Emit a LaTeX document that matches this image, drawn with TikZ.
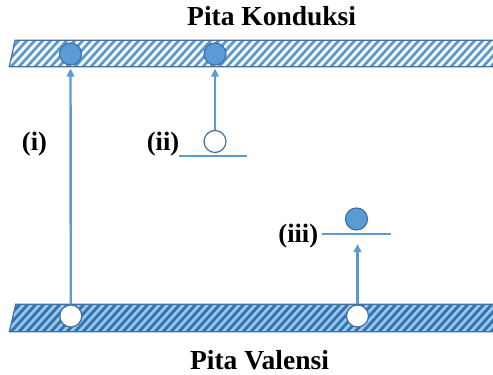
\documentclass[tikz,border=0pt]{standalone}
\usepackage{fontspec}
\setmainfont{Liberation Serif}
\usetikzlibrary{arrows.meta}
\definecolor{acc}{HTML}{5B9BD5}
\definecolor{edgeb}{HTML}{41719C}
\definecolor{lightb}{HTML}{9DC3E6}
\definecolor{darkh}{HTML}{2E75B6}
\begin{document}
\begin{tikzpicture}[x=1pt,y=-1pt,
 electron/.style={circle,draw=edgeb,fill=acc,line width=1.2pt,minimum size=22pt,inner sep=0},
 hole/.style={circle,draw=edgeb,fill=white,line width=1.2pt,minimum size=22pt,inner sep=0},
 jump/.style={draw=acc,line width=2.4pt,-{Triangle[length=8pt,width=7.5pt]}},
 levelline/.style={draw=acc,line width=2.4pt},
 lbl/.style={font=\bfseries\fontsize{26.5}{28}\selectfont,inner sep=0},
 ttl/.style={font=\bfseries\fontsize{27.5}{30}\selectfont,inner sep=0}]
\useasboundingbox (0,0) rectangle (493,375);
% conduction band
\begin{scope}
\clip (15,40.3) -- (500,40.3) -- (500,66.7) -- (9.3,66.7) -- cycle;
\foreach \x in {-40,-32,...,520} \draw[acc,line width=2.8pt] (\x,70) -- ++(30,-33);
\end{scope}
\draw[edgeb,line width=1.2pt] (500,40.3) -- (15,40.3) -- (9.3,66.7) -- (500,66.7);
% valence band
\fill[lightb] (15.7,304.3) -- (500,304.3) -- (500,331.7) -- (9.3,331.7) -- cycle;
\begin{scope}
\clip (15.7,304.3) -- (500,304.3) -- (500,331.7) -- (9.3,331.7) -- cycle;
\foreach \x in {-40,-32,...,520} \draw[darkh,line width=2.8pt] (\x,335) -- ++(30,-33);
\end{scope}
\draw[edgeb,line width=1.2pt] (500,304.3) -- (15.7,304.3) -- (9.3,331.7) -- (500,331.7);
% titles
\node[ttl,anchor=base west] (tc) at (187,25) {Pita Konduksi};
\node[ttl,anchor=base] (tv) at (259.5,369) {Pita Valensi};
% levels
\coordinate (l2a) at (179,156);
\coordinate (l2b) at (247,156);
\coordinate (l3a) at (322,234);
\coordinate (l3b) at (391,234);
\coordinate (l3m) at (357.5,234);
\draw[levelline] (l2a) -- (l2b);
\draw[levelline] (l3a) -- (l3b);
% particles
\node[electron] (e1) at (70.5,54) {};
\node[electron] (e2) at (215,54) {};
\node[hole] (h2) at (215,141.5) {};
\node[electron] (e3) at (356.5,219) {};
\node[hole] (h1) at (70.8,316) {};
\node[hole] (h3) at (357.5,316) {};
% transitions
\draw[jump,shorten >=3pt] (h1.north) -- (e1.south);
\draw[jump,shorten >=3pt] (h2.north) -- (e2.south);
\draw[jump,shorten >=10pt] (h3.north) -- (l3m);
% labels
\node[lbl] (li) at (34.5,144) {(i)};
\node[lbl] (lii) at (163,144) {(ii)};
\node[lbl] (liii) at (298.3,236) {(iii)};
\end{tikzpicture}
\end{document}
